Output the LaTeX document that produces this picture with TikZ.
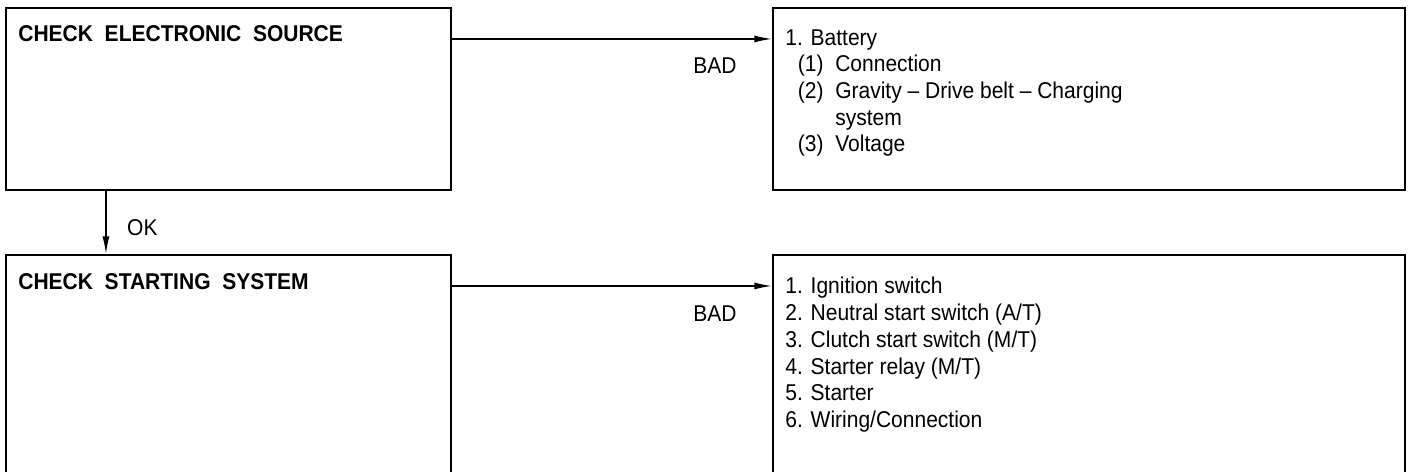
\documentclass[tikz,border=0pt]{standalone}
\usepackage{fontspec}
\setmainfont[FakeStretch=0.92]{Liberation Sans}
\usetikzlibrary{arrows.meta, positioning}

\begin{document}
\begin{tikzpicture}[
  chk/.style={rectangle, draw=black, line width=1.2pt, minimum width=8.9cm, minimum height=3.64cm, inner sep=0pt},
  fix/.style={rectangle, draw=black, line width=1.2pt, minimum width=12.64cm, minimum height=3.64cm, inner sep=0pt},
  head/.style={font=\fontsize{13}{15}\selectfont\bfseries, anchor=north west, inner sep=0pt},
  items/.style={font=\fontsize{13}{15.2}\selectfont, anchor=north west, align=left, inner sep=0pt},
  arr/.style={draw=black, line width=0.8pt, -{Latex[length=10pt,width=4pt]}},
  lbl/.style={font=\fontsize{13}{15}\selectfont},
]
\useasboundingbox (0,0) rectangle (28.22,-9.44);
\clip (0,0) rectangle (28.22,-9.44);

% upper row
\node[chk] (elec) at (4.57,-1.98) {};
\node[fix] (bat)  at (21.78,-1.98) {};
\node[head] (elect) at (0.36,-0.50) {CHECK~~ELECTRONIC~~SOURCE};
\node[items] (batt) at (15.70,-0.58) {1. Battery\\
  \hspace{0.55em}(1)~~Connection\\
  \hspace{0.55em}(2)~~Gravity -- Drive belt -- Charging\\
  \hspace{0.55em}\phantom{(2)~~}system\\
  \hspace{0.55em}(3)~~Voltage};

% lower row
\node[chk, minimum height=5cm] (start) at (4.57,-7.60) {};
\node[fix, minimum height=5cm] (parts) at (21.78,-7.60) {};
\node[head] (startt) at (0.36,-5.46) {CHECK~~STARTING~~SYSTEM};
\node[items] (partt) at (15.70,-5.54) {1. Ignition switch\\
  2. Neutral start switch (A/T)\\
  3. Clutch start switch (M/T)\\
  4. Starter relay (M/T)\\
  5. Starter\\
  6. Wiring/Connection};

% connectors
\draw[arr] ([yshift=-0.64cm]elec.north east) -- ([yshift=-0.64cm]bat.north west);
\node[lbl] (bad1) at (14.30,-1.32) {BAD};
\draw[arr] ([yshift=-0.64cm]start.north east) -- ([yshift=-0.64cm]parts.north west);
\node[lbl] (bad2) at (14.30,-6.28) {BAD};
\draw[arr] ([xshift=2.02cm]elec.south west) -- ([xshift=2.02cm]start.north west);
\node[lbl, anchor=west] (ok) at (2.42,-4.56) {OK};
\end{tikzpicture}
\end{document}
